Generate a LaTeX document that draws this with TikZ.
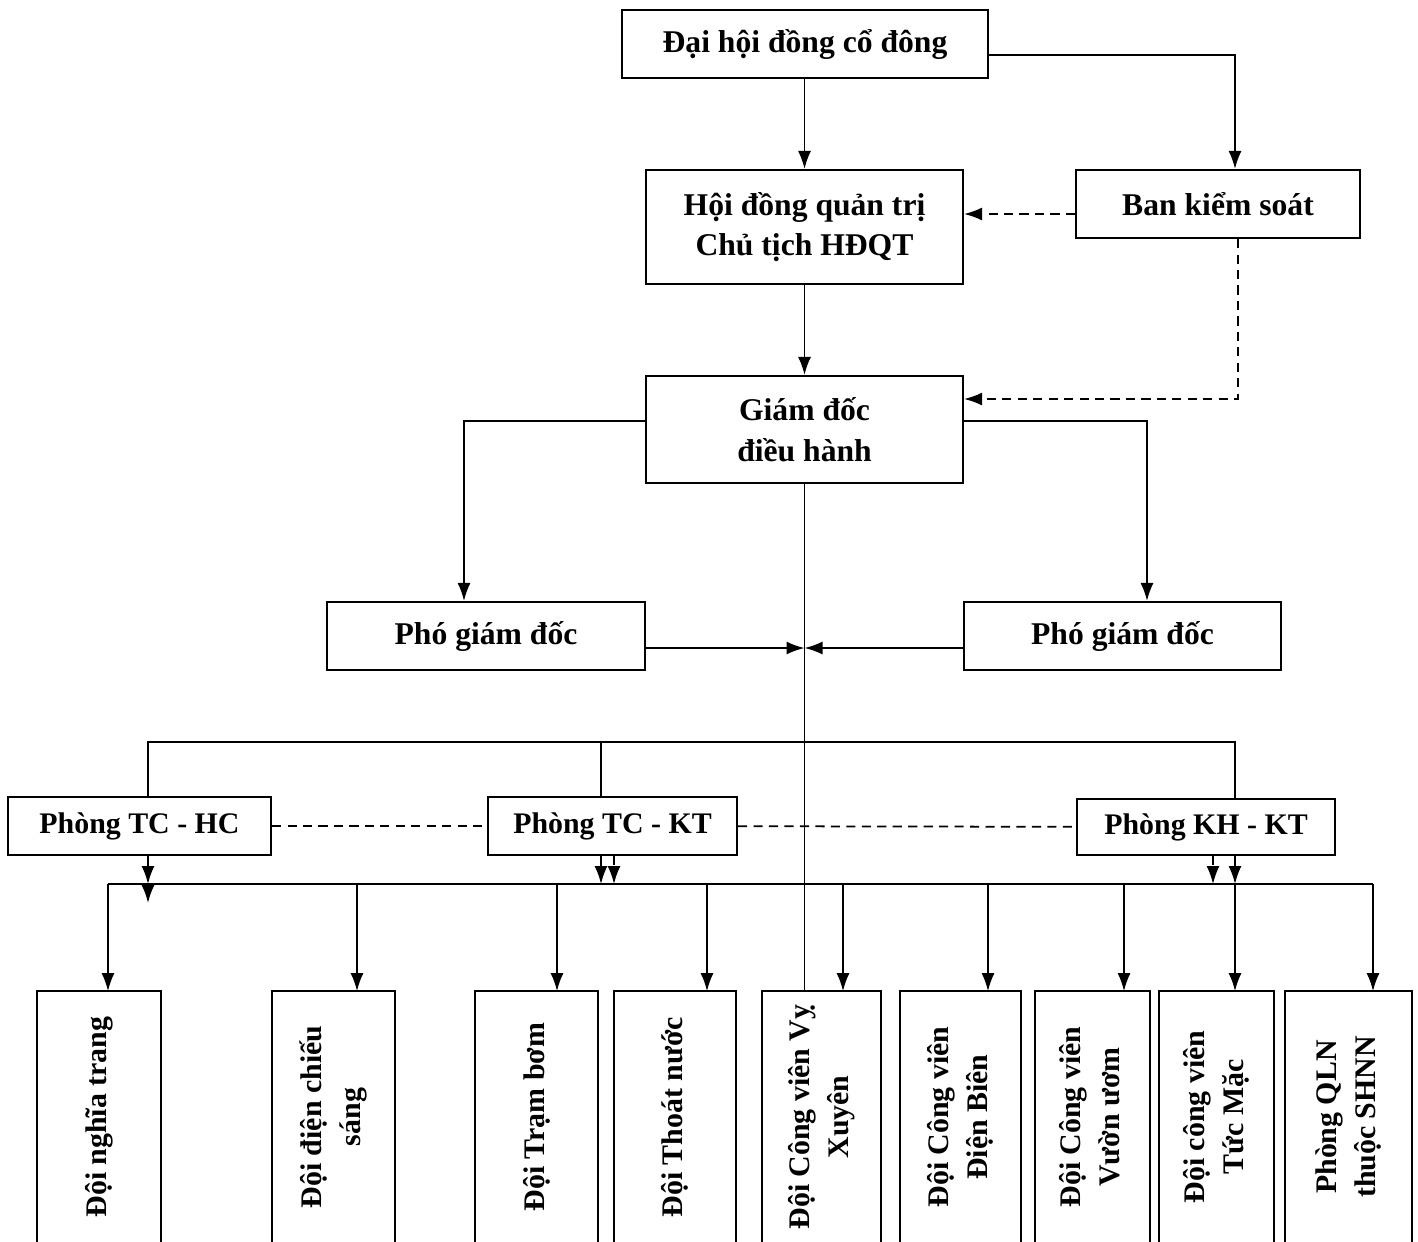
\documentclass[tikz,border=0pt]{standalone}
\usepackage{fontspec}
\usepackage{graphicx}
\setmainfont{Liberation Serif}
\usetikzlibrary{arrows.meta}

\tikzset{
  unit/.style={draw,line width=.6pt,inner sep=2pt,align=center,
    font=\fontsize{9}{11.5}\selectfont\bfseries},
  dept/.style={unit,font=\fontsize{8.5}{10}\selectfont\bfseries},
  team/.style={minimum height=2.5cm,inner sep=0pt,
    font=\fontsize{8.5}{11}\selectfont\bfseries},
  dashline/.style={dash pattern=on 2.6pt off 1.8pt},
  >={Latex[length=1.8mm,width=1.3mm]}
}
\newcommand{\vtext}[1]{\rotatebox{90}{\begin{tabular}{@{}c@{}}#1\end{tabular}}}

\begin{document}
\begin{tikzpicture}[line width=.5pt]
  \useasboundingbox (0,0) rectangle (14.18,-12.41);
  % board and management
  \node (dh) [unit,minimum width=3.66cm,minimum height=.68cm] at (8.05,-.44) {Đại hội đồng cổ đông};
  \node (hd) [unit,minimum width=3.17cm,minimum height=1.14cm] at (8.045,-2.27) {Hội đồng quản trị\\Chủ tịch HĐQT};
  \node (bks) [unit,minimum width=2.84cm,minimum height=.68cm] at (12.18,-2.04) {Ban kiểm soát};
  \node (gd) [unit,minimum width=3.17cm,minimum height=1.07cm] at (8.045,-4.295) {Giám đốc\\điều hành};
  \node (pgl) [unit,minimum width=3.18cm,minimum height=.68cm] at (4.86,-6.36) {Phó giám đốc};
  \node (pgr) [unit,minimum width=3.17cm,minimum height=.68cm] at (11.225,-6.36) {Phó giám đốc};
  % departments
  \node (tchc) [dept,minimum width=2.63cm,minimum height=.58cm] at (1.395,-8.26) {Phòng TC - HC};
  \node (tckt) [dept,minimum width=2.49cm,minimum height=.58cm] at (6.125,-8.26) {Phòng TC - KT};
  \node (khkt) [dept,minimum width=2.58cm,minimum height=.56cm] at (12.06,-8.27) {Phòng KH - KT};
  % teams, open at the bottom edge
  \node (d1) [team,minimum width=1.22cm] at (.99,-11.17) {\vtext{Đội nghĩa trang}};
  \node (d2) [team,minimum width=1.21cm] at (3.335,-11.17) {\vtext{Đội điện chiếu\\sáng}};
  \node (d3) [team,minimum width=1.21cm] at (5.365,-11.17) {\vtext{Đội Trạm bơm}};
  \node (d4) [team,minimum width=1.20cm] at (6.75,-11.17) {\vtext{Đội Thoát nước}};
  \node (d5) [team,minimum width=1.17cm] at (8.215,-11.17) {\vtext{Đội Công viên Vỵ\\Xuyên}};
  \node (d6) [team,minimum width=1.19cm] at (9.605,-11.17) {\vtext{Đội Công viên\\Điện Biên}};
  \node (d7) [team,minimum width=1.13cm] at (10.925,-11.17) {\vtext{Đội Công viên\\Vườn ươm}};
  \node (d8) [team,minimum width=1.13cm] at (12.165,-11.17) {\vtext{Đội công viên\\Tức Mặc}};
  \node (d9) [team,minimum width=1.25cm] at (13.485,-11.17) {\vtext{Phòng QLN\\thuộc SHNN}};
  \foreach \n in {d1,d2,d3,d4,d5,d6,d7,d8,d9}
    \draw[line width=.6pt] (\n.south west) -- (\n.north west) -- (\n.north east) -- (\n.south east);

  \draw[->] (hd.north |- dh.south) -- (hd.north);
  \path (node cs:name=dh,anchor=east) +(0,-.11) coordinate (dho);
  \path (node cs:name=bks,anchor=north) +(.17,0) coordinate (bksi);
  \draw[->] (dho) -| (bksi);
  \path (node cs:name=bks,anchor=west) +(0,-.10) coordinate (bkso);
  \draw[dashline,->] (bkso) -- (bkso -| hd.east);
  \path (node cs:name=bks,anchor=south) +(.20,0) coordinate (bksb);
  \path (node cs:name=gd,anchor=east) +(0,.305) coordinate (gdi);
  \draw[dashline,->] (bksb) |- (gdi);
  \draw[->] (hd.south) -- (gd.north);

  \path (node cs:name=gd,anchor=west) +(0,.085) coordinate (gdl);
  \path (node cs:name=pgl,anchor=north) +(-.22,0) coordinate (pgli);
  \draw[->] (gdl) -| (pgli);
  \path (node cs:name=gd,anchor=east) +(0,.085) coordinate (gdr);
  \path (node cs:name=pgr,anchor=north) +(.245,0) coordinate (pgri);
  \draw[->] (gdr) -| (pgri);

  \draw (gd.south) -- (gd.south |- d5.north);
  \path (node cs:name=pgl,anchor=east) +(0,-.12) coordinate (pglo);
  \draw[->] (pglo) -- (pglo -| gd.south);
  \path (node cs:name=pgr,anchor=west) +(0,-.12) coordinate (pgro);
  \draw[->] (pgro) -- (pgro -| gd.south);

  % upper bus
  \coordinate (upbus) at (0,-7.42);
  \path (node cs:name=tchc,anchor=north) +(.085,0) coordinate (tchct);
  \path (node cs:name=tckt,anchor=north) +(-.115,0) coordinate (tcktt);
  \path (node cs:name=khkt,anchor=north) +(.29,0) coordinate (khktt);
  \draw (tchct) -- (tchct |- upbus) -| (khktt);
  \draw (tcktt) -- (tcktt |- upbus);
  \draw[dashline] (tchc) -- (tckt);
  \draw[dashline] (tckt) -- (khkt);

  % lower bus
  \coordinate (lowbus) at (0,-8.84);
  \foreach \n/\dx in {d1/.09,d2/.235,d3/.205,d4/.32,d5/.215,d6/.275,d7/.315,d8/.185,d9/.245} {
    \path (node cs:name=\n,anchor=north) +(\dx,0) coordinate (\n i);
    \draw[->] (\n i |- lowbus) -- (\n i);
  }
  \draw (d1i |- lowbus) -- (d9i |- lowbus);

  \path (node cs:name=tchc,anchor=south) +(.085,0) coordinate (tchcb);
  \draw[->] (tchcb) -- (tchcb |- lowbus);
  \draw[->] (tchcb |- lowbus) -- ++(0,-.19);
  \path (node cs:name=tckt,anchor=south) +(-.115,0) coordinate (tcktb);
  \draw[->] (tcktb) -- (tcktb |- lowbus);
  \path (node cs:name=tckt,anchor=south) +(.015,0) coordinate (tcktd);
  \draw[dashline,->] (tcktd) -- (tcktd |- lowbus);
  \path (node cs:name=khkt,anchor=south) +(.07,0) coordinate (khktd);
  \draw[dashline,->] (khktd) -- (khktd |- lowbus);
  \path (node cs:name=khkt,anchor=south) +(.29,0) coordinate (khktb);
  \draw[->] (khktb) -- (khktb |- lowbus);
\end{tikzpicture}
\end{document}
